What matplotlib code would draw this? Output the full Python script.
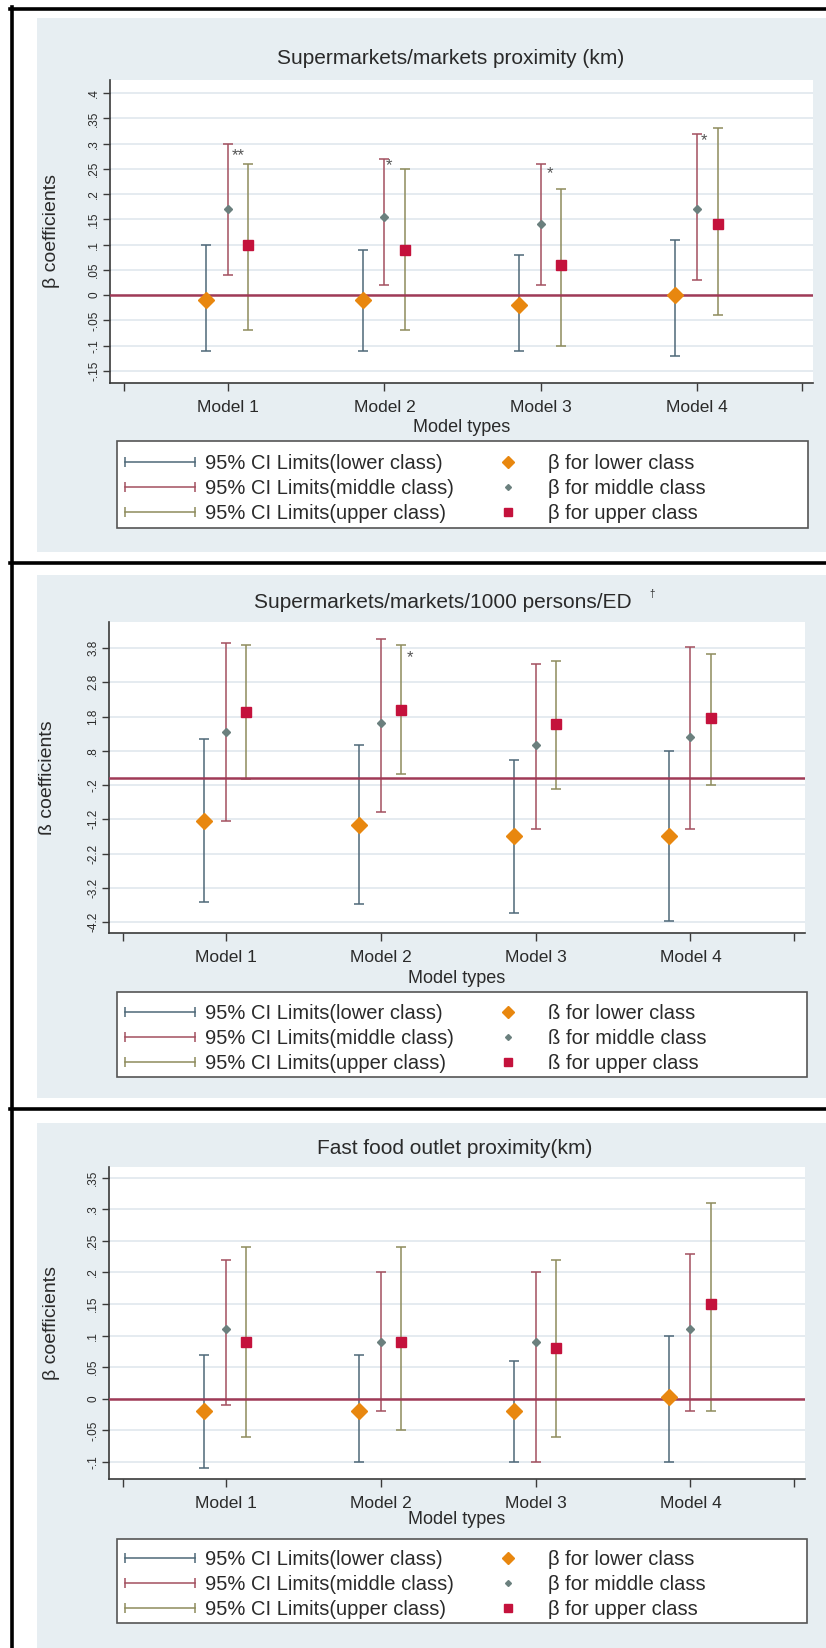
import matplotlib
matplotlib.use("Agg")
import matplotlib.pyplot as plt
from matplotlib.lines import Line2D
from matplotlib.patches import Rectangle
from matplotlib.legend_handler import HandlerLine2D

plt.rcParams["font.family"] = ["Liberation Sans", "DejaVu Sans"]

# ---- data ----
models = ["Model 1", "Model 2", "Model 3", "Model 4"]
class_names = ["lower", "middle", "upper"]

# panel 1: supermarkets/markets proximity (km)
prox_lower_b = [-0.01, -0.01, -0.02, 0.00]
prox_lower_lo = [-0.11, -0.11, -0.11, -0.12]
prox_lower_hi = [0.10, 0.09, 0.08, 0.11]
prox_middle_b = [0.17, 0.155, 0.14, 0.17]
prox_middle_lo = [0.04, 0.02, 0.02, 0.03]
prox_middle_hi = [0.30, 0.27, 0.26, 0.32]
prox_upper_b = [0.10, 0.09, 0.06, 0.14]
prox_upper_lo = [-0.07, -0.07, -0.10, -0.04]
prox_upper_hi = [0.26, 0.25, 0.21, 0.33]
prox_stars = ["**", "*", "*", "*"]
prox_star_x = [1.065, 2.03, 3.06, 4.045]
prox_star_y = [0.277, 0.256, 0.24, 0.305]
prox_yticks = [-0.15, -0.1, -0.05, 0, 0.05, 0.1, 0.15, 0.2, 0.25, 0.3, 0.35, 0.4]
prox_ylabels = ["-.15", "-.1", "-.05", "0", ".05", ".1", ".15", ".2", ".25", ".3", ".35", ".4"]

# panel 2: supermarkets/markets per 1000 persons per ED
dens_lower_b = [-1.24, -1.36, -1.68, -1.68]
dens_lower_lo = [-3.61, -3.68, -3.93, -4.17]
dens_lower_hi = [1.15, 0.97, 0.54, 0.78]
dens_middle_b = [1.36, 1.61, 0.97, 1.21]
dens_middle_lo = [-1.24, -1.00, -1.47, -1.47]
dens_middle_hi = [3.96, 4.07, 3.34, 3.83]
dens_upper_b = [1.93, 1.99, 1.57, 1.75]
dens_upper_lo = [-0.02, 0.11, -0.32, -0.20]
dens_upper_hi = [3.90, 3.90, 3.41, 3.64]
dens_stars = ["*"]
dens_star_x = [2.19]
dens_star_y = [3.51]
dens_yticks = [-4.2, -3.2, -2.2, -1.2, -0.2, 0.8, 1.8, 2.8, 3.8]
dens_ylabels = ["-4.2", "-3.2", "-2.2", "-1.2", "-.2", ".8", "1.8", "2.8", "3.8"]

# panel 3: fast food outlet proximity (km)
ff_lower_b = [-0.02, -0.02, -0.02, 0.003]
ff_lower_lo = [-0.11, -0.10, -0.10, -0.10]
ff_lower_hi = [0.07, 0.07, 0.06, 0.10]
ff_middle_b = [0.11, 0.09, 0.09, 0.11]
ff_middle_lo = [-0.01, -0.02, -0.10, -0.02]
ff_middle_hi = [0.22, 0.20, 0.20, 0.23]
ff_upper_b = [0.09, 0.09, 0.08, 0.15]
ff_upper_lo = [-0.06, -0.05, -0.06, -0.02]
ff_upper_hi = [0.24, 0.24, 0.22, 0.31]
ff_yticks = [-0.1, -0.05, 0, 0.05, 0.1, 0.15, 0.2, 0.25, 0.3, 0.35]
ff_ylabels = ["-.1", "-.05", "0", ".05", ".1", ".15", ".2", ".25", ".3", ".35"]

# ---- style ----
W, H = 826, 1648
PANEL_BG = "#e7eef2"
GRID = "#e0e8ed"
AXIS = "#3a3a3a"
TEXT = "#2a2a2a"
ZERO = "#a03a57"
ci_colors = ["#4e6878", "#a3505f", "#8e8c5c"]
mk_styles = [dict(marker="D", color="#e8870f", ms=8),
             dict(marker="D", color="#6b807e", ms=4),
             dict(marker="s", color="#c4123c", ms=7.5)]
offsets = [-0.14, 0.0, 0.13]
model_pos = [1, 2, 3, 4]
edge_ticks = [1 / 3, 14 / 3]

fig = plt.figure(figsize=(W / 100, H / 100), dpi=100)
fig.patch.set_facecolor("white")


def fx(px):
    return px / W


def fy(py):
    return 1 - py / H


def fbox(x0, y0, x1, y1):
    return [fx(x0), fy(y1), (x1 - x0) / W, (y1 - y0) / H]


def draw_panel(bg, box, ylim, yticks, ylabels, series, title, title_xy,
               ylab, ylab_x, beta, leg_box, leg_top, stars=None, dagger=None,
               xlab_y=44):
    # grey graph region behind the plot
    fig.add_artist(Rectangle((fx(bg[0]), fy(bg[3])), (bg[2] - bg[0]) / W,
                             (bg[3] - bg[1]) / H, transform=fig.transFigure,
                             facecolor=PANEL_BG, edgecolor="none", zorder=-3))

    ax = fig.add_axes(fbox(*box))
    ax.set_facecolor("white")
    for (b, lo, hi), off, col in zip(series, offsets, ci_colors):
        x = [p + off for p in model_pos]
        err = [[bi - l for bi, l in zip(b, lo)], [h - bi for bi, h in zip(b, hi)]]
        ax.errorbar(x, b, yerr=err, fmt="none", ecolor=col, elinewidth=1.1,
                    capsize=3.5, capthick=1.1, zorder=2)
    ax.axhline(0, color=ZERO, lw=1.8, zorder=3)
    for (b, lo, hi), off, st in zip(series, offsets, mk_styles):
        x = [p + off for p in model_pos]
        ax.plot(x, b, ls="none", marker=st["marker"], ms=st["ms"],
                color=st["color"], mec=st["color"], zorder=4)
    if stars:
        for s, sx, sy in zip(*stars):
            ax.text(sx, sy, s, ha="center", va="center", fontsize=12,
                    color="#555555", zorder=5)

    ax.set_xlim(0.245, 4.74)
    ax.set_ylim(*ylim)
    ax.set_xticks(edge_ticks[:1] + model_pos + edge_ticks[1:])
    ax.set_xticklabels([""] + models + [""], fontsize=12.5, color=TEXT)
    ax.set_yticks(yticks)
    ax.set_yticklabels(ylabels, fontsize=8.5, color=TEXT, rotation=90, va="center")
    ax.tick_params(axis="x", direction="out", length=6, width=1, color=AXIS, pad=6)
    ax.tick_params(axis="y", direction="out", length=5, width=1, color=AXIS, pad=2)
    for side in ("top", "right"):
        ax.spines[side].set_visible(False)
    for side in ("left", "bottom"):
        ax.spines[side].set_color(AXIS)
        ax.spines[side].set_linewidth(1.2)
    ax.grid(axis="y", color=GRID, lw=1.2)
    ax.set_axisbelow(True)

    bw, bh = box[2] - box[0], box[3] - box[1]
    ax.set_ylabel(ylab, fontsize=14, color=TEXT)
    ax.yaxis.set_label_coords((ylab_x - box[0]) / bw, 0.5)
    ax.set_xlabel("Model types", fontsize=13, color=TEXT)
    ax.xaxis.set_label_coords(0.5, -xlab_y / bh)
    ax.xaxis.label.set_va("center")

    fig.text(fx(title_xy[0]), fy(title_xy[1]), title, ha="center", va="center",
             fontsize=15, color=TEXT)
    if dagger:
        fig.text(fx(dagger[0]), fy(dagger[1]), "\u2020", ha="center", va="center",
                 fontsize=7, color=TEXT)

    # legend: white box with two columns
    fig.add_artist(Rectangle((fx(leg_box[0]), fy(leg_box[3])),
                             (leg_box[2] - leg_box[0]) / W,
                             (leg_box[3] - leg_box[1]) / H,
                             transform=fig.transFigure, facecolor="white",
                             edgecolor="#555555", lw=1.2, zorder=-2))
    ci_handles = [Line2D([], [], color=c, lw=1.1, marker="|", ms=7, mew=1.1)
                  for c in ci_colors]
    ci_labels = ["95% CI Limits({} class)".format(c) for c in class_names]
    leg1 = ax.legend(ci_handles, ci_labels, loc="upper left",
                     bbox_to_anchor=(fx(125), fy(leg_top)),
                     bbox_transform=fig.transFigure, frameon=False, numpoints=2,
                     handlelength=3.5, handletextpad=0.45, labelspacing=0.3,
                     borderpad=0, borderaxespad=0, fontsize=14.5,
                     handler_map={Line2D: HandlerLine2D(marker_pad=0)})
    for t in leg1.get_texts():
        t.set_color(TEXT)
    ax.add_artist(leg1)
    mk_handles = [Line2D([], [], ls="none", marker=st["marker"], ms=st["ms"] * 0.75,
                         color=st["color"]) for st in mk_styles]
    mk_labels = ["{} for {} class".format(beta, c) for c in class_names]
    leg2 = ax.legend(mk_handles, mk_labels, loc="upper left",
                     bbox_to_anchor=(fx(498), fy(leg_top)),
                     bbox_transform=fig.transFigure, frameon=False, numpoints=1,
                     handlelength=1.0, handletextpad=1.5, labelspacing=0.3,
                     borderpad=0, borderaxespad=0, fontsize=14.5)
    for t in leg2.get_texts():
        t.set_color(TEXT)
    return ax


draw_panel(bg=(37, 18, 826, 552), box=(110, 80, 813, 383),
           ylim=(-0.174, 0.426), yticks=prox_yticks, ylabels=prox_ylabels,
           series=[(prox_lower_b, prox_lower_lo, prox_lower_hi),
                   (prox_middle_b, prox_middle_lo, prox_middle_hi),
                   (prox_upper_b, prox_upper_lo, prox_upper_hi)],
           title="Supermarkets/markets proximity (km)", title_xy=(451, 58),
           ylab="\u03b2 coefficients", ylab_x=60, beta="\u03b2",
           leg_box=(117, 441, 808, 528), leg_top=454,
           stars=(prox_stars, prox_star_x, prox_star_y))

draw_panel(bg=(37, 575, 826, 1098), box=(109, 622, 805, 933),
           ylim=(-4.52, 4.56), yticks=dens_yticks, ylabels=dens_ylabels,
           series=[(dens_lower_b, dens_lower_lo, dens_lower_hi),
                   (dens_middle_b, dens_middle_lo, dens_middle_hi),
                   (dens_upper_b, dens_upper_lo, dens_upper_hi)],
           title="Supermarkets/markets/1000 persons/ED", title_xy=(443, 602),
           ylab="\u00df coefficients", ylab_x=56, beta="\u00df",
           leg_box=(117, 992, 807, 1077), leg_top=1004,
           stars=(dens_stars, dens_star_x, dens_star_y), dagger=(652, 594),
           xlab_y=45)

draw_panel(bg=(37, 1123, 826, 1648), box=(109, 1167, 805, 1479),
           ylim=(-0.127, 0.367), yticks=ff_yticks, ylabels=ff_ylabels,
           series=[(ff_lower_b, ff_lower_lo, ff_lower_hi),
                   (ff_middle_b, ff_middle_lo, ff_middle_hi),
                   (ff_upper_b, ff_upper_lo, ff_upper_hi)],
           title="Fast food outlet proximity(km)", title_xy=(455, 1148),
           ylab="\u03b2 coefficients", ylab_x=60, beta="\u03b2",
           leg_box=(117, 1539, 807, 1623), leg_top=1550, xlab_y=41)

# black frame lines around / between the panels
for y0 in (8.5, 563, 1109):
    fig.add_artist(Line2D([fx(10), 1], [fy(y0), fy(y0)], transform=fig.transFigure,
                          color="black", lw=2.6, zorder=-1))
fig.add_artist(Line2D([fx(11.5), fx(11.5)], [fy(7), 0], transform=fig.transFigure,
                      color="black", lw=2.6, zorder=-1))

fig.savefig("out.png", dpi=100)
